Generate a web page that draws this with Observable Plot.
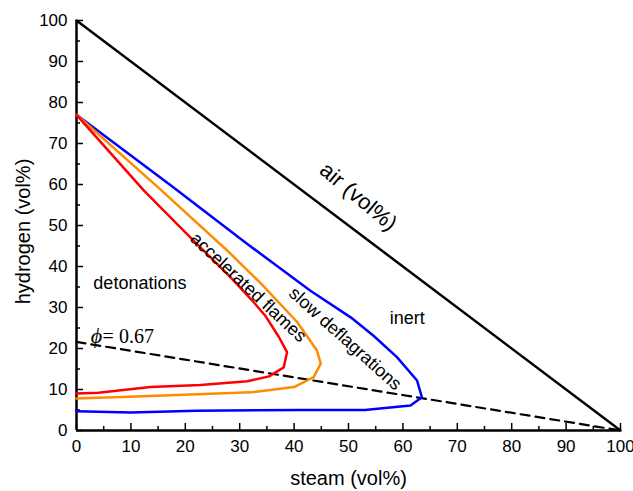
<!DOCTYPE html>
<html>
<head>
<meta charset="utf-8">
<script src="https://cdn.jsdelivr.net/npm/d3@7"></script>
<script src="https://cdn.jsdelivr.net/npm/@observablehq/plot@0.6"></script>
<style>
body { margin: 0; background: white; }
</style>
</head>
<body>
<div id="chart"></div>
<script>
// Data
const xMajor = [0,10,20,30,40,50,60,70,80,90,100];
const xMinor = [5,15,25,35,45,55,65,75,85,95];
const yMajor = [0,10,20,30,40,50,60,70,80,90,100];
const yMinor = [5,15,25,35,45,55,65,75,85,95];

const airX = [0, 100];
const airY = [100, 0];
const phiX = [0, 100];
const phiY = [21.6, 0];

const redX = [0, 12.4, 20, 28.3, 32.3, 34.7, 37.2, 38.7, 38.1, 35.4, 31.4, 22.8, 13.6, 4, 0];
const redY = [77, 58.5, 48.3, 37.4, 31.7, 28, 22.8, 19.1, 15.4, 13.2, 12, 11.1, 10.6, 9.2, 9];

const orangeX = [0, 15, 27.7, 33.8, 40.6, 44.2, 44.9, 43.6, 40, 32, 13.6, 0];
const orangeY = [77, 59.3, 43.9, 36, 26.4, 19.5, 16.3, 13, 10.6, 9.3, 8.4, 7.8];

const blueX = [0, 17.3, 31.4, 43, 50.4, 54.6, 58.9, 62.6, 63.5, 61.4, 53, 41.2, 22, 10, 0];
const blueY = [77, 59.8, 45.5, 34.1, 27.6, 23.1, 17.9, 12.2, 8.1, 6.1, 5.0, 5.0, 4.8, 4.4, 4.7];

const labels = ["air (vol%)", "detonations", "accelerated flames", "slow deflagrations", "inert"];
const labelX = [51.8, 3.1, 31.6, 49.4, 60.8];
const labelY = [57, 35.9, 34.9, 22.4, 27.3];

const toRows = (xs, ys) => xs.map((x, i) => ({x, y: ys[i]}));
const serif = "'Liberation Serif', 'DejaVu Serif', serif";

const chart = Plot.plot({
  width: 633,
  height: 491,
  marginLeft: 76,
  marginRight: 13,
  marginTop: 20,
  marginBottom: 61,
  x: {domain: [0, 100]},
  y: {domain: [0, 100]},
  style: {fontFamily: "'Liberation Sans', Arial, sans-serif", fontSize: "17px", color: "black", background: "white"},
  marks: [
    // tick labels
    Plot.axisX({ticks: xMajor, tickSize: 0, tickPadding: 9, label: null, fontSize: 17}),
    Plot.axisY({ticks: yMajor, tickSize: 0, tickPadding: 9, label: null, fontSize: 17}),
    // inward tick marks
    Plot.axisX({ticks: xMajor, tickSize: -7, tickFormat: () => "", label: null, strokeWidth: 1.5}),
    Plot.axisX({ticks: xMinor, tickSize: -4, tickFormat: () => "", label: null, strokeWidth: 1.5}),
    Plot.axisY({ticks: yMajor, tickSize: -7, tickFormat: () => "", label: null, strokeWidth: 1.5}),
    Plot.axisY({ticks: yMinor, tickSize: -4, tickFormat: () => "", label: null, strokeWidth: 1.5}),
    Plot.ruleX([0], {stroke: "black", strokeWidth: 2.5}),
    Plot.ruleY([0], {stroke: "black", strokeWidth: 2.5}),
    // axis titles
    Plot.text(["steam (vol%)"], {frameAnchor: "bottom", dy: 48, lineAnchor: "middle", fontSize: 20, text: d => d}),
    Plot.text(["hydrogen (vol%)"], {frameAnchor: "left", dx: -53, dy: 6, rotate: -90, textAnchor: "middle", lineAnchor: "middle", fontSize: 20, text: d => d}),
    // lines
    Plot.line(toRows(airX, airY), {x: "x", y: "y", stroke: "black", strokeWidth: 2.5}),
    Plot.line(toRows(phiX, phiY), {x: "x", y: "y", stroke: "black", strokeWidth: 2.2, strokeDasharray: "9,6"}),
    Plot.line(toRows(blueX, blueY), {x: "x", y: "y", stroke: "#0000ff", strokeWidth: 2.5}),
    Plot.line(toRows(orangeX, orangeY), {x: "x", y: "y", stroke: "#ff8c00", strokeWidth: 2.5}),
    Plot.line(toRows(redX, redY), {x: "x", y: "y", stroke: "#ff0000", strokeWidth: 2.5}),
    // region labels
    Plot.text([0], {x: labelX[0], y: labelY[0], text: () => labels[0], rotate: 40, fontSize: 22}),
    Plot.text([0], {x: labelX[1], y: labelY[1], text: () => labels[1], textAnchor: "start", fontSize: 18}),
    Plot.text([0], {x: labelX[2], y: labelY[2], text: () => labels[2], rotate: 43, fontSize: 18}),
    Plot.text([0], {x: labelX[3], y: labelY[3], text: () => labels[3], rotate: 42, fontSize: 18}),
    Plot.text([0], {x: labelX[4], y: labelY[4], text: () => labels[4], fontSize: 18}),
    // phi label
    Plot.text([0], {x: 2.6, y: 23, text: () => "ϕ", textAnchor: "start", fontSize: 22, fontStyle: "italic", fontFamily: serif}),
    Plot.text([0], {x: 4.8, y: 23, text: () => "= 0.67", textAnchor: "start", fontSize: 20, fontFamily: serif})
  ]
});
document.getElementById("chart").appendChild(chart);
</script>
</body>
</html>
